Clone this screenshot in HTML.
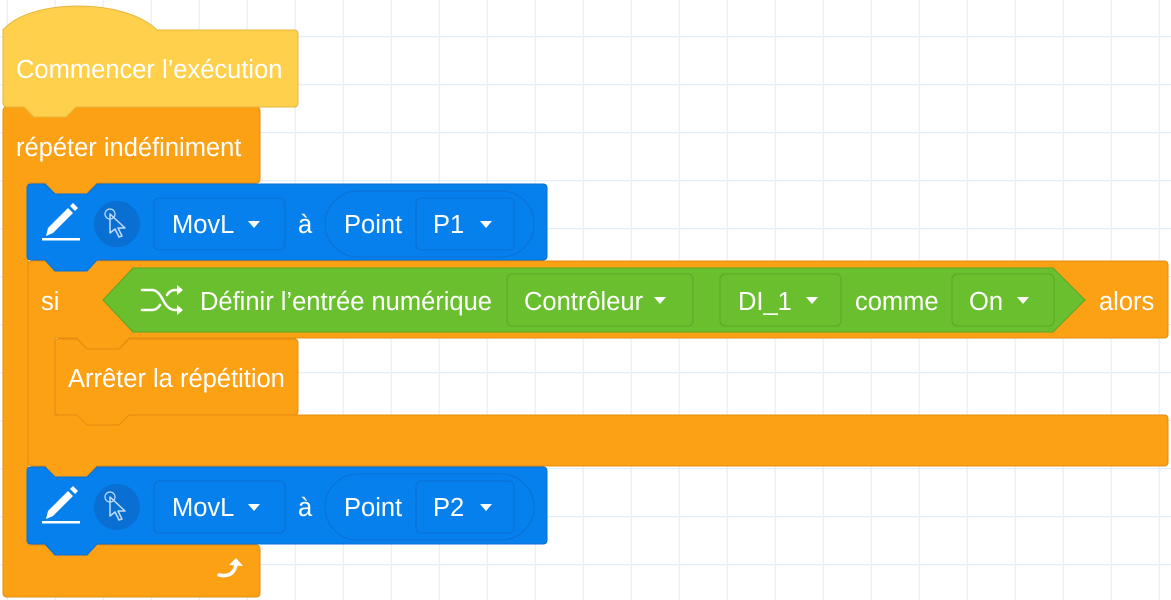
<!DOCTYPE html>
<html><head><meta charset="utf-8"><style>
html,body{margin:0;padding:0;background:#fff;}
svg{display:block;}
text{font-family:"Liberation Sans",Arial,sans-serif;font-size:25.5px;fill:#fff;}
</style></head><body>
<svg width="1171" height="600" viewBox="0 0 1171 600" xmlns="http://www.w3.org/2000/svg">
<defs>
<pattern id="g" x="6.6" y="36" width="48" height="48" patternUnits="userSpaceOnUse">
<path d="M0,0.5 H48 M0.5,0 V48" stroke="#e4eefb" stroke-width="1.5" fill="none"/>
</pattern>
</defs>
<rect width="1171" height="600" fill="url(#g)"/>

<!-- repeat C -->
<path d="M3,111 Q3,107 7,107 L256,107 Q260,107 260,111 L260,179 Q260,183 256,183 L97,183 L87,194 L55,194 L45,183 L28,183 L28,545 L256,545 Q260,545 260,549 L260,593 Q260,597 256,597 L7,597 Q3,597 3,593 Z" fill="#fca014" stroke="#e38d0f" stroke-width="1"/>
<text x="16" y="156">répéter indéfiniment</text>
<!-- loop arrow -->
<path d="M219,575 Q233,578 236,565" stroke="#fff" stroke-width="3.5" fill="none" stroke-linecap="round"/>
<path d="M229,565 L236,558 L243,566 Z" fill="#fff"/>

<!-- hat -->
<path d="M3,30 C30,-2 125,-2 157,30 L294,30 Q298,30 298,34 L298,103 Q298,107 294,107 L76,107 L66,117 L34,117 L24,107 L7,107 Q3,107 3,103 Z" fill="#ffd04c" stroke="#e8b63e" stroke-width="1"/>
<text x="16" y="78">Commencer l’exécution</text>

<!-- si block -->
<path d="M28,265 Q28,261 32,261 L1164,261 Q1168,261 1168,265 L1168,334 Q1168,338 1164,338 L129,338 L119,349 L87,349 L77,338 L55,338 L55,415 L1164,415 Q1168,415 1168,419 L1168,462 Q1168,466 1164,466 L97,466 L87,477 L55,477 L45,466 L32,466 Q28,466 28,462 Z" fill="#fca014" stroke="#e38d0f" stroke-width="1"/>
<text x="41" y="310">si</text>
<text x="1099" y="310">alors</text>

<!-- green hexagon -->
<path d="M103,300 L133,268 L1053,268 L1085,300 L1053,332 L133,332 Z" fill="#6abf2f" stroke="#5aa526" stroke-width="1"/>
<g stroke="#fff" stroke-width="2.5" fill="none" stroke-linecap="round">
<path d="M142,290 L152,290 Q158,290 163,300 Q168,310 175,310 L181,310"/>
<path d="M142,310 L152,310 Q157,310 160,305"/>
<path d="M167,295 Q170,290 175,290 L181,290"/>
</g>
<path d="M177,285 L183,290 L177,295 Z M177,305 L183,310 L177,315 Z" fill="#fff"/>
<text x="200" y="310">Définir l’entrée numérique</text>
<rect x="507" y="274" width="186" height="52" rx="5" fill="#6abf2f" stroke="#5aa526"/>
<text x="524" y="310">Contrôleur</text>
<path d="M654,297 L666,297 L660,304 Z" fill="#fff"/>
<rect x="720" y="274" width="121" height="52" rx="5" fill="#6abf2f" stroke="#5aa526"/>
<text x="738" y="310">DI_1</text>
<path d="M806,297 L818,297 L812,304 Z" fill="#fff"/>
<text x="855" y="310">comme</text>
<rect x="952" y="274" width="102" height="52" rx="5" fill="#6abf2f" stroke="#5aa526"/>
<text x="969" y="310">On</text>
<path d="M1017,297 L1029,297 L1023,304 Z" fill="#fff"/>

<!-- arrêter -->
<path d="M55,343 Q55,339 59,339 L77,339 L87,349 L119,349 L129,339 L294,339 Q298,339 298,343 L298,411 Q298,415 294,415 L129,415 L119,425 L87,425 L77,415 L59,415 Q55,415 55,411 Z" fill="#fca014" stroke="#e38d0f" stroke-width="1"/>
<text x="68" y="387">Arrêter la répétition</text>

<!-- blue blocks -->
<path d="M27,188 Q27,184 31,184 L45,184 L55,194 L87,194 L97,184 L543,184 Q547,184 547,188 L547,256 Q547,260 543,260 L97,260 L87,271 L55,271 L45,260 L31,260 Q27,260 27,256 Z" fill="#0680ec" stroke="#0a6fcf" stroke-width="1"/>
<path d="M27,471 Q27,467 31,467 L45,467 L55,477 L87,477 L97,467 L543,467 Q547,467 547,471 L547,540 Q547,544 543,544 L97,544 L87,555 L55,555 L45,544 L31,544 Q27,544 27,540 Z" fill="#0680ec" stroke="#0a6fcf" stroke-width="1"/>

<g id="row1">
<path d="M48,228 L68,208 L73,213 L53,233 L46,236 Z" fill="#fff"/>
<path d="M70,206 L73,203 L78,208 L75,211 Z" fill="#fff"/>
<rect x="42" y="238" width="38" height="2.5" fill="#fff"/>
<circle cx="117" cy="224" r="23" fill="#0a6fd2"/>
<path d="M110,214 L110,233 L115,229 L119,237 L122,236 L118,228 L125,228 Z" fill="none" stroke="#bfdcff" stroke-width="1.5" stroke-linejoin="round"/>
<circle cx="110" cy="214" r="5" fill="none" stroke="#bfdcff" stroke-width="1.2"/>
<rect x="154" y="198" width="131" height="52" rx="5" fill="#0680ec" stroke="#0a70d4"/>
<text x="172" y="233">MovL</text>
<path d="M248,221 L260,221 L254,228 Z" fill="#fff"/>
<text x="298" y="233">à</text>
<rect x="325" y="191" width="209" height="66" rx="33" fill="#0680ec" stroke="#0a70d4"/>
<text x="344" y="233">Point</text>
<rect x="416" y="198" width="98" height="52" rx="5" fill="#0680ec" stroke="#0a70d4"/>
<text x="433" y="233">P1</text>
<path d="M480,221 L492,221 L486,228 Z" fill="#fff"/>
</g>

<g transform="translate(0,283)">
<path d="M48,228 L68,208 L73,213 L53,233 L46,236 Z" fill="#fff"/>
<path d="M70,206 L73,203 L78,208 L75,211 Z" fill="#fff"/>
<rect x="42" y="238" width="38" height="2.5" fill="#fff"/>
<circle cx="117" cy="224" r="23" fill="#0a6fd2"/>
<path d="M110,214 L110,233 L115,229 L119,237 L122,236 L118,228 L125,228 Z" fill="none" stroke="#bfdcff" stroke-width="1.5" stroke-linejoin="round"/>
<circle cx="110" cy="214" r="5" fill="none" stroke="#bfdcff" stroke-width="1.2"/>
<rect x="154" y="198" width="131" height="52" rx="5" fill="#0680ec" stroke="#0a70d4"/>
<text x="172" y="233">MovL</text>
<path d="M248,221 L260,221 L254,228 Z" fill="#fff"/>
<text x="298" y="233">à</text>
<rect x="325" y="191" width="209" height="66" rx="33" fill="#0680ec" stroke="#0a70d4"/>
<text x="344" y="233">Point</text>
<rect x="416" y="198" width="98" height="52" rx="5" fill="#0680ec" stroke="#0a70d4"/>
<text x="433" y="233">P2</text>
<path d="M480,221 L492,221 L486,228 Z" fill="#fff"/>
</g>
</svg>
</body></html>
